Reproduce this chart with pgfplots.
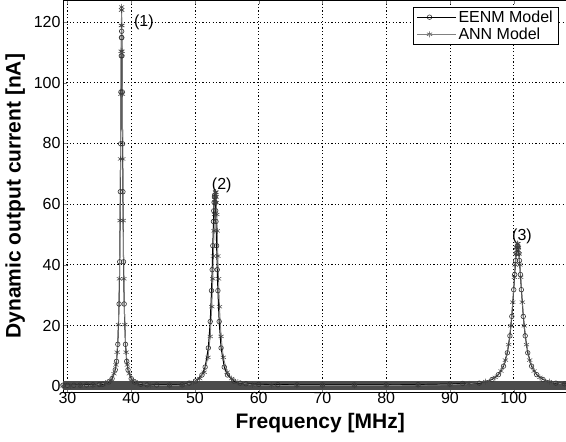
\documentclass[border=0pt]{standalone}
\usepackage{pgfplots}
\pgfplotsset{compat=1.18}
\usepackage{fontspec}
\setmainfont{Liberation Sans}
\begin{document}
\begin{tikzpicture}
\begin{axis}[name=ax, scale only axis, width=514.7pt, height=392.4pt,
 xmin=29.3, xmax=110, ymin=-2, ymax=127.3,
 xtick={30,40,...,100}, ytick={0,20,...,120},
 extra x ticks={110}, extra x tick labels={},
 /pgf/number format/assume math mode=true,
 tick label style={font=\fontsize{16}{18}\selectfont},
 xticklabel style={yshift=3pt},
 yticklabel style={xshift=1pt},
 grid=major, grid style={black, line width=0.8pt, dash pattern=on 1.2pt off 2.2pt},
 tick align=inside, major tick length=4pt,
 xlabel={Frequency [MHz]}, ylabel={Dynamic output current [nA]},
 label style={font=\fontsize{21}{24}\selectfont\bfseries},
 xlabel style={at={(0.5,0)}, anchor=base, yshift=-36pt},
 ylabel style={yshift=2pt},
 legend image code/.code={%
   \draw[mark repeat=2,mark phase=2,#1] plot coordinates {(0pt,0pt) (12.5pt,0pt) (25pt,0pt)};
   \path (0pt,0pt) -- (39pt,0pt);},
 legend style={at={(0.962,0.981)}, anchor=north east, font=\fontsize{16}{19}\selectfont, draw=black, inner xsep=3pt, inner ysep=1pt},
 legend cell align=left,
]
\addplot[forget plot, black!70, line width=9pt] coordinates {(29.3,0.3) (110,0.3)};
\addplot[black, line width=1pt, mark=o, mark size=2.3pt, mark options={black!80, line width=0.6pt}] coordinates {
(29.3,0.3) (30,0.3) (31,0.3) (32,0.35) (33,0.4) (34,0.45) (35,0.55) (35.5,0.6) (36.5,1.4) (37.0,2.5) (37.5,5.4) (37.7,8.2) (37.9,13.8) (38.1,27.1) (38.2,41.0) (38.3,64.1) (38.35,79.9) (38.4,97.0) (38.44,108.9) (38.47,114.9) (38.5,117) (38.53,114.9) (38.56,108.9) (38.6,97.0) (38.65,79.9) (38.7,64.1) (38.8,41.0) (38.9,27.1) (39.1,13.8) (39.3,8.2) (39.5,5.4) (40.0,2.5) (40.5,1.4) (41.5,0.6) (42.5,0.45) (44,0.4) (46,0.4) (48,0.45)
(49.1,1.0) (50.1,1.7) (51.1,3.7) (51.6,6.3) (52.1,12.6) (52.4,21.3) (52.6,31.5) (52.7,38.4) (52.8,46.3) (52.9,54.3) (52.95,57.8) (53.0,60.6) (53.05,62.4) (53.1,63) (53.15,62.4) (53.2,60.6) (53.25,57.8) (53.3,54.3) (53.4,46.3) (53.5,38.4) (53.6,31.5) (53.8,21.3) (54.1,12.6) (54.6,6.3) (55.1,3.7) (56.1,1.7) (57.1,1.0)
(58,0.8) (60,0.6) (63,0.5) (66,0.45) (70,0.4) (75,0.4) (80,0.45) (85,0.5) (90,0.7) (92,0.9)
(94.6,1.0) (96.6,2.2) (97.6,3.8) (98.4,6.6) (99.0,11.0) (99.4,16.6) (99.7,23) (100.0,31.8) (100.15,36.8) (100.3,41.4) (100.4,43.8) (100.5,45.4) (100.6,46) (100.7,45.4) (100.8,43.8) (100.9,41.4) (101.05,36.8) (101.2,31.8) (101.5,23) (101.8,16.6) (102.2,11.0) (102.8,6.6) (103.6,3.8) (104.6,2.2) (106.6,1.0) (108,0.8) (110,0.6)
};
\addlegendentry{EENM Model}
\addplot[black!50, line width=0.8pt, mark=asterisk, mark size=3pt, mark options={black!75, line width=0.5pt}] coordinates {
(29.3,0.1) (30.5,0.1) (32,0.15) (34,0.25) (36.0,1.0) (36.7,1.8) (37.3,4.1) (37.6,7.0) (37.8,11.2) (38.0,20.3) (38.15,35.4) (38.25,54.6) (38.32,74.9) (38.38,96.3) (38.42,110.4) (38.45,118.9) (38.48,124.0) (38.5,125) (38.52,124.0) (38.55,118.9) (38.58,110.4) (38.62,96.3) (38.68,74.9) (38.75,54.6) (38.85,35.4) (39.0,20.3) (39.2,11.2) (39.4,7.0) (39.7,4.1) (40.3,1.8) (41.0,1.0) (43,0.3) (46,0.2) (48,0.3)
(49.75,1.3) (50.75,2.5) (51.45,4.6) (52.05,9.5) (52.4,16.4) (52.65,26.2) (52.8,35.4) (52.9,42.9) (53.0,51.2) (53.07,56.6) (53.13,60.5) (53.17,62.4) (53.23,63.9) (53.25,64) (53.27,63.9) (53.33,62.4) (53.37,60.5) (53.43,56.6) (53.5,51.2) (53.6,42.9) (53.7,35.4) (53.85,26.2) (54.1,16.4) (54.45,9.5) (55.05,4.6) (55.75,2.5) (56.75,1.3)
(59,0.4) (62,0.3) (66,0.2) (70,0.2) (75,0.2) (80,0.25) (85,0.3) (90,0.5) (93,0.8)
(95.6,1.5) (97.1,2.9) (98.0,5.0) (98.7,8.6) (99.2,13.7) (99.55,19.9) (99.85,27.7) (100.1,35.9) (100.225,40.0) (100.35,43.6) (100.45,45.7) (100.55,46.9) (100.6,47) (100.65,46.9) (100.75,45.7) (100.85,43.6) (100.975,40.0) (101.1,35.9) (101.35,27.7) (101.65,19.9) (102.0,13.7) (102.5,8.6) (103.2,5.0) (104.1,2.9) (105.6,1.5) (108,0.6) (110,0.4)
};
\addlegendentry{ANN Model}
\node[anchor=west, font=\fontsize{16}{18}\selectfont] at (axis cs:39.9,120) {(1)};
\node[font=\fontsize{16}{18}\selectfont] at (axis cs:54.2,66.2) {(2)};
\node[font=\fontsize{16}{18}\selectfont] at (axis cs:101.3,49.3) {(3)};
\coordinate (R) at (axis cs:108.2,127.3);
\coordinate (L) at (axis cs:29.3,-2);
\end{axis}
\pgfresetboundingbox
\path[use as bounding box] ([shift={(-63pt,-49pt)}]L) rectangle (R);
\end{tikzpicture}
\end{document}
